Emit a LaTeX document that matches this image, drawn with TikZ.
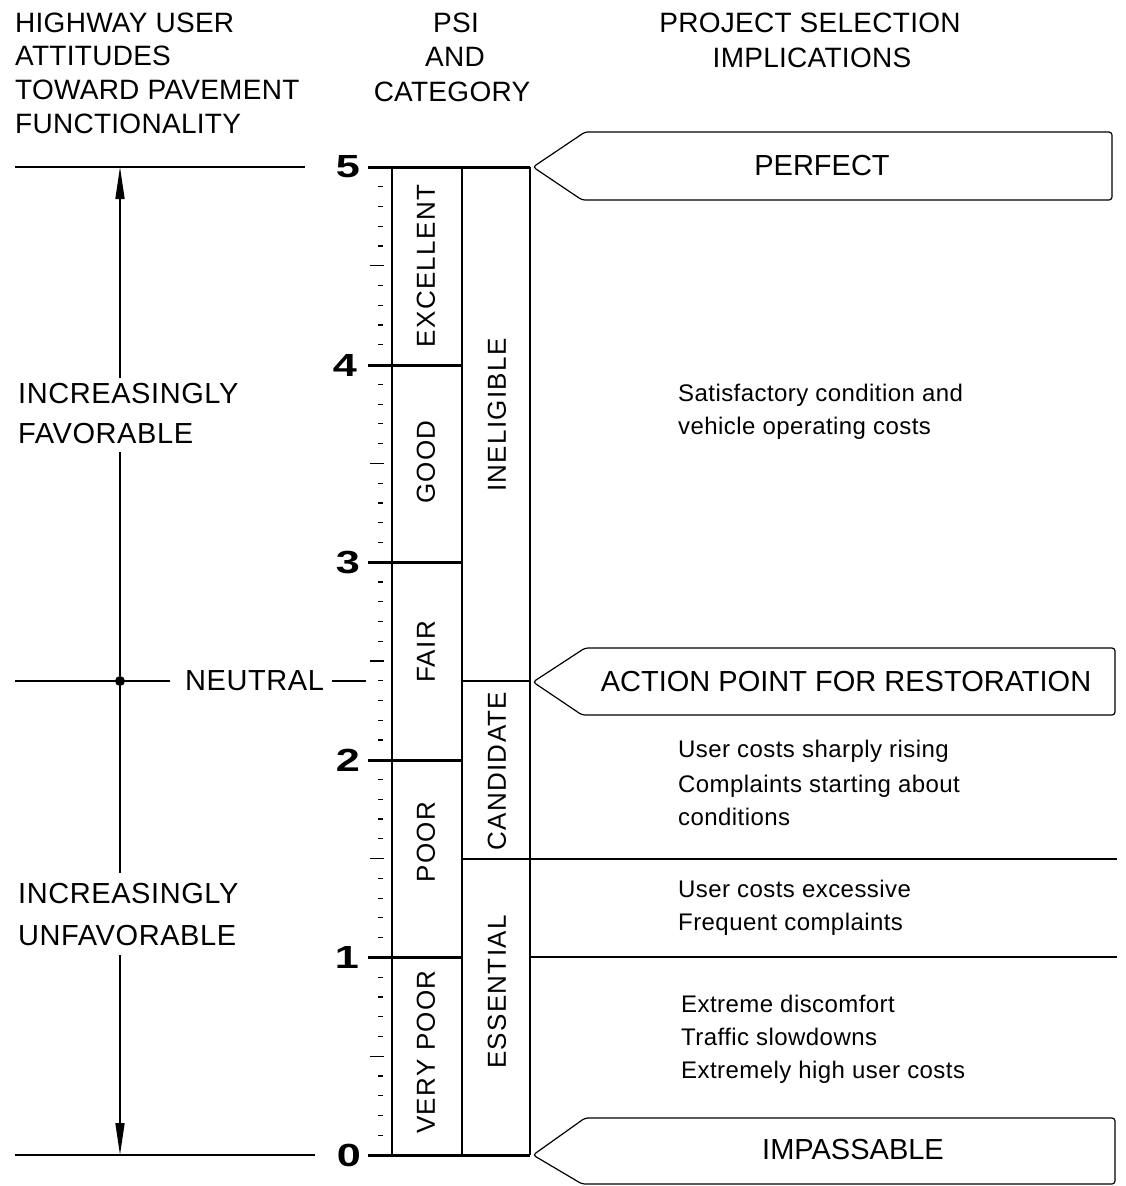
\documentclass[tikz,border=0pt]{standalone}
\usepackage{fontspec}
\usepackage{graphicx}
\setmainfont{Liberation Sans}
\usetikzlibrary{arrows.meta}
\tikzset{
 hdr/.style={font=\fontsize{28}{33}\selectfont\addfontfeatures{LetterSpace=1}, inner sep=0pt},
 side/.style={font=\fontsize{29}{33}\selectfont\addfontfeatures{LetterSpace=2}, inner sep=0pt, anchor=base west},
 desc/.style={font=\fontsize{24}{30}\selectfont\addfontfeatures{LetterSpace=1.8}, inner sep=0pt, anchor=base west},
 rotlab/.style={font=\fontsize{26}{30}\selectfont\addfontfeatures{LetterSpace=5}, rotate=90, inner sep=0pt},
 boxtxt/.style={font=\fontsize{29}{33}\selectfont, inner sep=0pt},
 num/.style={font=\fontsize{32}{32}\selectfont\bfseries, inner sep=0pt},
 heavy/.style={line width=3pt},
 colline/.style={line width=2pt},
 thinline/.style={line width=1.6pt},
 tickline/.style={line width=1.2pt},
 pointer/.style={line width=1.2pt, rounded corners=3pt},
 arr/.style={line width=1.6pt, -{Triangle[length=32pt,width=9pt]}},
}
\begin{document}
\begin{tikzpicture}[x=1pt,y=-1pt]
\useasboundingbox[fill=white] (0,0) rectangle (1125,1186);

% ---------- headers ----------
\node[hdr,anchor=base west] (h1) at (15,32) {HIGHWAY USER};
\node[hdr,anchor=base west] (h2) at (15,65) {ATTITUDES};
\node[hdr,anchor=base west] (h3) at (15,99) {TOWARD PAVEMENT};
\node[hdr,anchor=base west] (h4) at (15,133) {FUNCTIONALITY};
\node[hdr,anchor=base] (p1) at (456,32) {PSI};
\node[hdr,anchor=base] (p2) at (455,66) {AND};
\node[hdr,anchor=base] (p3) at (452,101) {CATEGORY};
\node[hdr,anchor=base] (r1) at (810,32) {PROJECT SELECTION};
\node[hdr,anchor=base] (r2) at (812,67) {IMPLICATIONS};

% ---------- PSI numbers ----------
\node[num] (n5) at (348,167) {\scalebox{1.35}[1]{5}};
\node[num] (n4) at (345,365) {\scalebox{1.35}[1]{4}};
\node[num] (n3) at (348,562) {\scalebox{1.35}[1]{3}};
\node[num] (n2) at (348,760) {\scalebox{1.35}[1]{2}};
\node[num] (n1) at (347,957) {\scalebox{1.35}[1]{1}};
\node[num] (n0) at (349,1155) {\scalebox{1.35}[1]{0}};

% ---------- ticks ----------
\foreach \i in {1,...,49}{
 \pgfmathtruncatemacro{\m}{mod(\i,10)}
 \pgfmathtruncatemacro{\f}{mod(\i,5)}
 \pgfmathsetmacro{\yy}{1155-\i*19.76}
 \ifnum\m>0
   \ifnum\f=0
     \draw[tickline] (370,\yy) -- (384,\yy);
   \else
     \draw[tickline] (378,\yy) -- (383,\yy);
   \fi
 \fi
}

% ---------- columns ----------
\coordinate (c5a) at (368,167);   \coordinate (c5b) at (530,167);
\coordinate (c0a) at (368,1155);  \coordinate (c0b) at (530,1155);
\draw[colline] (392,167) -- (392,1155);
\draw[colline] (462,167) -- (462,1155);
\draw[colline] (530,167) -- (530,1155);
\draw[heavy] (c5a) -- (c5b);
\draw[heavy] (c0a) -- (c0b);
\draw[heavy] (368,365) -- (462,365);
\draw[heavy] (368,562) -- (462,562);
\draw[heavy] (368,760) -- (462,760);
\draw[heavy] (368,957) -- (462,957);
\draw[colline] (462,681) -- (530,681);
\draw[colline] (462,859) -- (1117,859);
\draw[colline] (530,957) -- (1117,957);

% ---------- category labels ----------
\node[rotlab] (exc) at (426,266) {EXCELLENT};
\node[rotlab] (good) at (426,462) {GOOD};
\node[rotlab] (fair) at (426,652) {FAIR};
\node[rotlab] (poor) at (426,842) {POOR};
\node[rotlab] (vpoor) at (426,1052) {VERY POOR};
\node[rotlab] (inel) at (497,415) {INELIGIBLE};
\node[rotlab] (cand) at (497,771) {CANDIDATE};
\node[rotlab] (ess) at (497,992) {ESSENTIAL};

% ---------- left attitudes ----------
\draw[thinline] (15,167) -- (305,167);
\draw[thinline] (15,1155) -- (315,1155);
\coordinate (top) at (120,167);
\coordinate (bot) at (120,1155);
\node[circle,fill=black,inner sep=0pt,minimum size=10pt] (neu) at (120,681) {};
\node[side,anchor=west] (neutxt) at (185,681) {NEUTRAL};
\draw[thinline] (15,681) -- (170,681);
\draw[thinline] ([xshift=8pt]neutxt.east) -- (366,681);

\node[side] (fav1) at (18,403) {INCREASINGLY};
\node[side] (fav2) at (18,443) {FAVORABLE};
\node[side] (unf1) at (18,903) {INCREASINGLY};
\node[side] (unf2) at (18,945) {UNFAVORABLE};

\draw[arr] (120,378) -- (top);
\draw[thinline] (120,452) -- (neu) -- (120,873);
\draw[arr] (120,955) -- (bot);

% ---------- pointer boxes ----------
\draw[pointer] (533,167) -- (585,132) -- (1112,132) -- (1112,200) -- (582,200) -- cycle;
\node[boxtxt] (perf) at (822,166) {PERFECT};
\draw[pointer] (533,682) -- (585,648) -- (1115,648) -- (1115,715) -- (582,715) -- cycle;
\node[boxtxt] (act) at (846,682) {ACTION POINT FOR RESTORATION};
\draw[pointer] (533,1155) -- (585,1118) -- (1115,1118) -- (1115,1184) -- (582,1184) -- cycle;
\node[boxtxt] (imp) at (853,1150) {IMPASSABLE};

% ---------- descriptions ----------
\node[desc] (d1) at (678,401) {Satisfactory condition and};
\node[desc] (d2) at (678,434) {vehicle operating costs};
\node[desc] (d3) at (678,757) {User costs sharply rising};
\node[desc] (d4) at (678,792) {Complaints starting about};
\node[desc] (d5) at (678,825) {conditions};
\node[desc] (d6) at (678,897) {User costs excessive};
\node[desc] (d7) at (678,930) {Frequent complaints};
\node[desc] (d8) at (681,1012) {Extreme discomfort};
\node[desc] (d9) at (681,1045) {Traffic slowdowns};
\node[desc] (d10) at (681,1078) {Extremely high user costs};
\end{tikzpicture}
\end{document}
